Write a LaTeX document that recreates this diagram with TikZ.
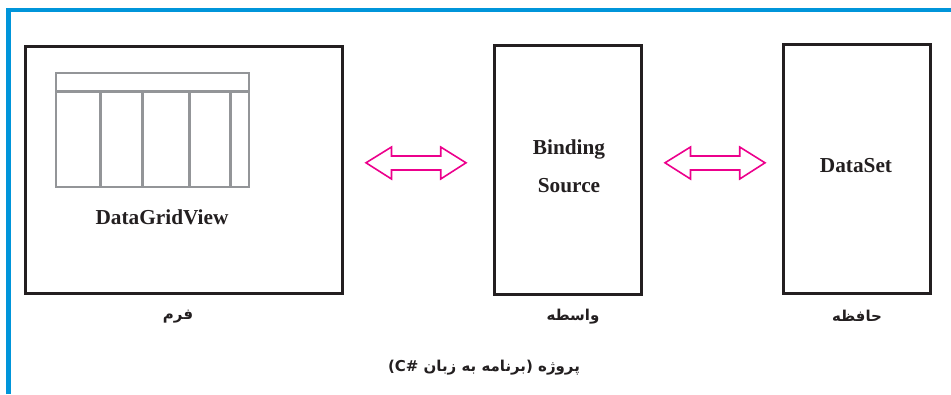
\documentclass[tikz,border=0pt]{standalone}
\usepackage{fontspec}
\setmainfont{Liberation Serif}
\newfontfamily\arabicfont[Script=Arabic]{DejaVu Sans}
\TeXXeTstate=1
\definecolor{framecol}{HTML}{0095DA}
\definecolor{boxcol}{HTML}{231F20}
\definecolor{gridcol}{HTML}{939598}
\definecolor{arrowcol}{HTML}{EC008C}
\tikzset{
  x=1pt,y=-1pt,
  frameline/.style={draw=framecol,line width=4.2pt},
  bigbox/.style={draw=boxcol,line width=2.8pt},
  gridline/.style={draw=gridcol,line width=2.4pt},
  dblarrow/.style={draw=arrowcol,line width=1.6pt,line join=miter},
  entxt/.style={font=\fontsize{21.3}{24}\selectfont\bfseries,text=boxcol,inner sep=0pt,anchor=base},
  fatxt/.style={font=\arabicfont\fontsize{15}{18}\selectfont\bfseries,text=boxcol,inner sep=0pt},
}
\begin{document}
\begin{tikzpicture}
\useasboundingbox (0,0) rectangle (951,394);
\draw[frameline] (8.5,394) -- (8.5,10) -- (951,10);
\draw[bigbox] (25.2,46.3) rectangle (342.5,293.5);
\draw[bigbox] (494.3,45.3) rectangle (641.5,294.6);
\draw[bigbox] (783.3,44.8) rectangle (930.7,293.8);
\draw[gridline] (56,73) rectangle (249,187);
\draw[gridline] (56,91.5) -- (249,91.5);
\draw[gridline] (100.3,91.5) -- (100.3,187);
\draw[gridline] (142.5,91.5) -- (142.5,187);
\draw[gridline] (189.5,91.5) -- (189.5,187);
\draw[gridline] (230.5,91.5) -- (230.5,187);
\draw[dblarrow] (366,162.8) -- (391.5,147) -- (391.5,156) -- (440.7,156) -- (440.7,147) -- (466,162.8) -- (440.7,179) -- (440.7,170) -- (391.5,170) -- (391.5,179) -- cycle;
\draw[dblarrow] (665,162.8) -- (690.5,147) -- (690.5,156) -- (739.7,156) -- (739.7,147) -- (765,162.8) -- (739.7,179) -- (739.7,170) -- (690.5,170) -- (690.5,179) -- cycle;
\node[entxt] (grid) at (162,224) {DataGridView};
\node[entxt] (bind) at (569,154.5) {Binding};
\node[entxt] (src) at (569,192.5) {Source};
\node[entxt] (ds) at (856,172) {DataSet};
\node[fatxt] (form) at (178,317) {\beginR فرم\endR};
\node[fatxt] (mid) at (573,317) {\beginR واسطه\endR};
\node[fatxt] (mem) at (857,316) {\beginR حافظه\endR};
\node[fatxt] (proj) at (484,368) {\beginR پروژه (برنامه به زبان \beginL C\#\endL{})\endR};
\end{tikzpicture}
\end{document}
